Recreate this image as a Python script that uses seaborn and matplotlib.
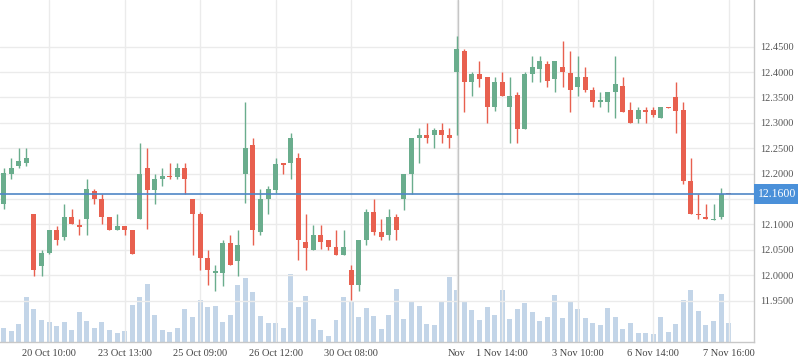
import numpy as np
import pandas as pd
import matplotlib
matplotlib.use("Agg")
import matplotlib.pyplot as plt
import seaborn as sns

# ---- data ----
opens = [12.141, 12.200, 12.216, 12.222, 12.121, 12.019, 12.044, 12.089, 12.076, 12.115,
         12.098, 12.111, 12.166, 12.150, 12.115, 12.090, 12.098, 12.089, 12.111, 12.211,
         12.167, 12.190, 12.196, 12.194, 12.211, 12.150, 12.121, 12.035, 12.005, 12.005,
         12.063, 12.029, 12.200, 12.256, 12.085, 12.151, 12.167, 12.221, 12.222, 12.231,
         12.066, 12.050, 12.079, 12.069, 12.056, 12.040, 12.010, 11.980, 12.069, 12.125,
         12.085, 12.079, 12.115, 12.150, 12.199, 12.270, 12.276, 12.276, 12.286, 12.276,
         12.401, 12.442, 12.381, 12.396, 12.390, 12.332, 12.381, 12.332, 12.355, 12.287,
         12.397, 12.407, 12.416, 12.387, 12.410, 12.398, 12.371, 12.390, 12.365, 12.342,
         12.342, 12.361, 12.373, 12.325, 12.307, 12.325, 12.325, 12.310, 12.331, 12.351,
         12.325, 12.186, 12.121, 12.115, 12.109, 12.115, 12.161]
highs = [12.212, 12.231, 12.251, 12.251, 12.121, 12.050, 12.089, 12.098, 12.140, 12.130,
         12.111, 12.190, 12.170, 12.161, 12.115, 12.121, 12.098, 12.089, 12.260, 12.251,
         12.199, 12.211, 12.221, 12.221, 12.221, 12.150, 12.125, 12.050, 12.020, 12.069,
         12.079, 12.089, 12.341, 12.270, 12.170, 12.176, 12.230, 12.221, 12.280, 12.241,
         12.121, 12.099, 12.099, 12.069, 12.089, 12.089, 12.020, 12.069, 12.130, 12.150,
         12.111, 12.130, 12.121, 12.199, 12.270, 12.290, 12.300, 12.290, 12.300, 12.290,
         12.472, 12.445, 12.401, 12.422, 12.390, 12.390, 12.401, 12.390, 12.361, 12.401,
         12.432, 12.432, 12.422, 12.422, 12.461, 12.442, 12.432, 12.410, 12.371, 12.361,
         12.361, 12.432, 12.390, 12.341, 12.331, 12.331, 12.331, 12.331, 12.331, 12.381,
         12.341, 12.230, 12.161, 12.140, 12.140, 12.171, 12.161]
lows = [12.130, 12.190, 12.212, 12.215, 11.999, 11.999, 12.041, 12.060, 12.070, 12.100,
        12.080, 12.080, 12.141, 12.100, 12.089, 12.090, 12.080, 12.041, 12.111, 12.091,
        12.141, 12.176, 12.190, 12.190, 12.161, 12.040, 12.011, 11.980, 11.970, 11.979,
        12.021, 11.999, 12.143, 12.060, 12.080, 12.121, 12.162, 12.200, 12.190, 12.031,
        12.011, 12.050, 12.051, 12.050, 12.040, 12.040, 11.951, 11.969, 12.060, 12.079,
        12.069, 12.069, 12.069, 12.129, 12.161, 12.221, 12.261, 12.251, 12.261, 12.251,
        12.276, 12.322, 12.352, 12.371, 12.300, 12.324, 12.352, 12.261, 12.261, 12.287,
        12.381, 12.381, 12.371, 12.361, 12.371, 12.322, 12.352, 12.361, 12.332, 12.332,
        12.322, 12.310, 12.322, 12.300, 12.300, 12.300, 12.311, 12.310, 12.329, 12.281,
        12.180, 12.121, 12.111, 12.111, 12.109, 12.111, 12.160]
closes = [12.201, 12.211, 12.225, 12.231, 12.011, 12.044, 12.089, 12.070, 12.114, 12.100,
          12.096, 12.170, 12.150, 12.115, 12.089, 12.098, 12.090, 12.041, 12.199, 12.168,
          12.190, 12.196, 12.194, 12.211, 12.190, 12.121, 12.035, 12.011, 12.008, 12.063,
          12.021, 12.060, 12.250, 12.090, 12.150, 12.170, 12.219, 12.218, 12.270, 12.070,
          12.054, 12.079, 12.066, 12.056, 12.040, 12.056, 11.980, 12.069, 12.125, 12.086,
          12.076, 12.115, 12.089, 12.199, 12.270, 12.276, 12.271, 12.286, 12.276, 12.271,
          12.445, 12.381, 12.396, 12.386, 12.332, 12.381, 12.352, 12.352, 12.287, 12.396,
          12.410, 12.422, 12.383, 12.422, 12.401, 12.365, 12.390, 12.365, 12.342, 12.345,
          12.361, 12.377, 12.322, 12.300, 12.325, 12.321, 12.316, 12.331, 12.329, 12.324,
          12.186, 12.121, 12.119, 12.111, 12.111, 12.161, 12.160]
volumes = [14, 11, 18, 45, 33, 22, 20, 16, 20, 12,
           30, 21, 14, 20, 12, 9, 11, 37, 45, 58,
           27, 12, 10, 14, 33, 25, 42, 35, 36, 20,
           27, 57, 64, 50, 26, 19, 19, 14, 68, 35,
           46, 23, 12, 6, 22, 45, 41, 25, 34, 26,
           13, 27, 53, 23, 41, 36, 18, 17, 40, 65,
           52, 41, 32, 22, 35, 27, 52, 23, 33, 39,
           30, 21, 25, 47, 24, 41, 33, 24, 19, 17,
           34, 25, 13, 19, 9, 9, 8, 25, 10, 18,
           42, 52, 31, 17, 21, 48, 19]
tick_positions = [6, 16, 26, 36, 46, 60, 66, 76, 86, 96]
tick_labels = ["20 Oct 10:00", "23 Oct 13:00", "25 Oct 09:00", "26 Oct 12:00",
               "30 Oct 08:00", "Nov", "1 Nov 14:00", "3 Nov 10:00", "6 Nov 14:00",
               "7 Nov 16:00"]
price_ticks = [11.95, 12.00, 12.05, 12.10, 12.15, 12.20, 12.25, 12.30, 12.35, 12.40, 12.45]
last_price = 12.16

GREEN = "#6aad8d"
RED = "#e8604f"
VOL = "#c3d5e8"
BLUE_LINE = "#4f86c6"
BLUE_BOX = "#4a90d9"

sns.set_style("white")
plt.rcParams['font.family'] = ['Liberation Serif', 'DejaVu Serif']

df = pd.DataFrame(dict(idx=np.arange(len(opens)), open=opens, high=highs,
                       low=lows, close=closes, volume=volumes))
up = df["close"] >= df["open"]
colors = np.where(up, GREEN, RED)

fig = plt.figure(figsize=(7.98, 3.63), dpi=100)
ax = fig.add_axes([0, 21 / 363, 754.3 / 798, 342 / 363])
axv = ax.twinx()
ax.set_zorder(2)
ax.patch.set_visible(False)
axv.set_zorder(1)

# volume bars
sns.barplot(data=df, x="idx", y="volume", native_scale=True, ax=axv,
            color=VOL, width=0.66, saturation=1, linewidth=0)
axv.set_ylim(0, 342)
axv.set_yticks([])
axv.set_xlabel("")
axv.set_ylabel("")
for s in axv.spines.values():
    s.set_visible(False)

# grid
ax.set_yticks(price_ticks)
# the 12.1500 label sits under the last-price box in the reference
ax.set_yticklabels(["" if abs(v - 12.15) < 1e-9 else f"{v:.4f}" for v in price_ticks])
ax.set_xticks(tick_positions)
ax.set_xticklabels(tick_labels)
ax.grid(True, color="#ebebeb", linewidth=1)
ax.set_axisbelow(True)
ax.axvline(60.2, color="#c6c6c6", linewidth=1, zorder=1)

# candles
body_low = np.minimum(df["open"], df["close"])
body_h = np.maximum(np.abs(df["close"] - df["open"]), 0.0022)
ax.vlines(df["idx"], df["low"], df["high"], colors=colors, linewidth=1, zorder=3)
ax.bar(df["idx"], body_h, bottom=body_low, width=0.66, color=colors, linewidth=0, zorder=4)

# last price line + label
ax.axhline(last_price, color=BLUE_LINE, linewidth=1.2, zorder=5)
ax.text(1.005, last_price, f"{last_price:.4f}", transform=ax.get_yaxis_transform(),
        ha="left", va="center", fontsize=8.5, color="white", clip_on=False, zorder=10,
        bbox=dict(boxstyle="square,pad=0.36", fc=BLUE_BOX, ec="none"))

ax.set_xlim(-0.5, 99.4)
ax.set_ylim(11.8687, 12.5419)
ax.yaxis.tick_right()
ax.tick_params(axis="x", length=3, color="#cccccc", pad=2, labelsize=7.5, labelcolor="#444444")
ax.tick_params(axis="y", length=0, pad=4, labelsize=7.5, labelcolor="#555555")
for side in ["top", "left"]:
    ax.spines[side].set_visible(False)
for side in ["bottom", "right"]:
    ax.spines[side].set_color("#c8c8c8")
    ax.spines[side].set_linewidth(1)
ax.set_xlabel("")
ax.set_ylabel("")

fig.savefig("out.png", dpi=100)
